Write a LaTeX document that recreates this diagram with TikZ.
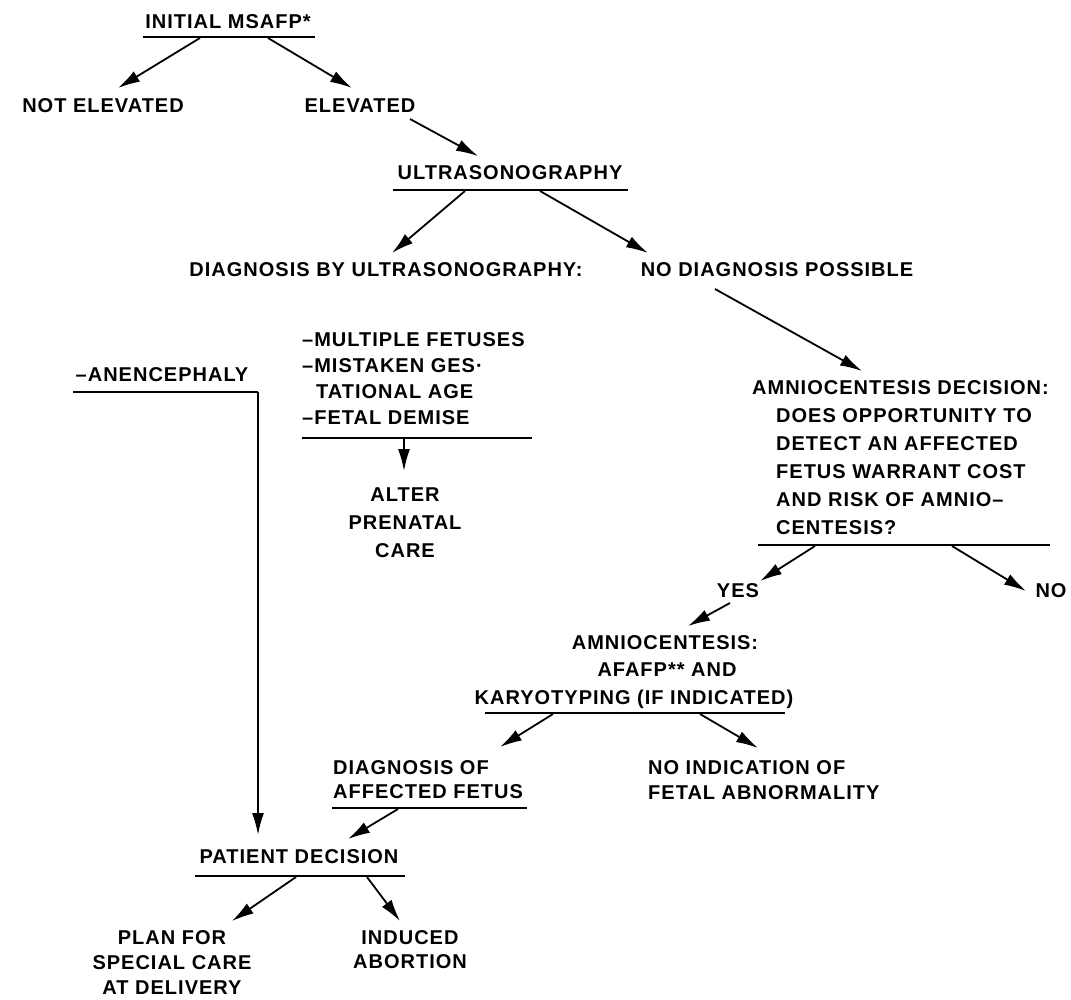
\documentclass[tikz,border=0pt]{standalone}
\usepackage{fontspec}
\setmainfont[LetterSpace=5]{Liberation Sans}
\usetikzlibrary{arrows.meta}
\begin{document}
\begin{tikzpicture}[x=1pt,y=-1pt,
  txt/.style={inner sep=0pt, font=\fontsize{20}{26}\selectfont\bfseries},
  arr/.style={line width=1.8pt, -{Latex[length=22pt,width=12pt]}},
  rulel/.style={line width=1.6pt},
]
\useasboundingbox[fill=white] (0,0) rectangle (1071,1000);

% ---------- text nodes ----------
\node[txt] (init) at (228,22) {INITIAL MSAFP*};
\node[txt] (notel) at (103,106) {NOT ELEVATED};
\node[txt] (elev) at (360,106) {ELEVATED};
\node[txt] (ultra) at (510,173) {ULTRASONOGRAPHY};
\node[txt] (diagus) at (386,270) {DIAGNOSIS BY ULTRASONOGRAPHY:};
\node[txt] (nodiag) at (777,270) {NO DIAGNOSIS POSSIBLE};
\node[txt,anchor=west,align=left] (list) at (302,379)
  {–MULTIPLE FETUSES\\–MISTAKEN GES·\\\hspace*{14pt}TATIONAL AGE\\–FETAL DEMISE};
\node[txt] (anen) at (162,375) {–ANENCEPHALY};
\node[txt,align=center,font=\fontsize{20}{28}\selectfont\bfseries] (alter) at (405,523)
  {ALTER\\PRENATAL\\CARE};
\node[txt,anchor=west,align=left,font=\fontsize{20}{28}\selectfont\bfseries] (amdec) at (752,458)
  {AMNIOCENTESIS DECISION:\\
   \hspace*{24pt}DOES OPPORTUNITY TO\\
   \hspace*{24pt}DETECT AN AFFECTED\\
   \hspace*{24pt}FETUS WARRANT COST\\
   \hspace*{24pt}AND RISK OF AMNIO–\\
   \hspace*{24pt}CENTESIS?};
\node[txt] (yes) at (738,591) {YES};
\node[txt] (no) at (1051,591) {NO};
\node[txt,align=center,font=\fontsize{20}{27.5}\selectfont\bfseries] (amnio) at (634,672)
  {\hspace*{62pt}AMNIOCENTESIS:\\\hspace*{66pt}AFAFP** AND\\KARYOTYPING (IF INDICATED)};
\node[txt,anchor=west,align=left,font=\fontsize{20}{24}\selectfont\bfseries] (diagof) at (333,780)
  {DIAGNOSIS OF\\AFFECTED FETUS};
\node[txt,anchor=west,align=left,font=\fontsize{20}{25}\selectfont\bfseries] (noind) at (648,780)
  {NO INDICATION OF\\FETAL ABNORMALITY};
\node[txt] (patient) at (299,857) {PATIENT DECISION};
\node[txt,align=center,font=\fontsize{20}{25}\selectfont\bfseries] (plan) at (172,963)
  {PLAN FOR\\SPECIAL CARE\\AT DELIVERY};
\node[txt,align=center,font=\fontsize{20}{24}\selectfont\bfseries] (induced) at (410,950)
  {INDUCED\\ABORTION};

% ---------- underlines ----------
\coordinate (initL) at (143,37);   \coordinate (initR) at (315,37);
\coordinate (ultraL) at (393,190); \coordinate (ultraR) at (628,190);
\coordinate (listL) at (302,438);  \coordinate (listR) at (532,438);
\coordinate (amdecL) at (758,545); \coordinate (amdecR) at (1050,545);
\coordinate (amnioL) at (485,713); \coordinate (amnioR) at (785,713);
\coordinate (diagL) at (332,808);  \coordinate (diagR) at (527,808);
\coordinate (patL) at (195,876);   \coordinate (patR) at (405,876);
\draw[rulel] (initL) -- (initR);
\draw[rulel] (ultraL) -- (ultraR);
\draw[rulel] (listL) -- (listR);
\draw[rulel] (amdecL) -- (amdecR);
\draw[rulel] (amnioL) -- (amnioR);
\draw[rulel] (diagL) -- (diagR);
\draw[rulel] (patL) -- (patR);

% ---------- connector end points ----------
\coordinate (c1s) at (200,38);  \coordinate (c1e) at (118,88);
\coordinate (c2s) at (268,38);  \coordinate (c2e) at (352,88);
\coordinate (c3s) at (410,119); \coordinate (c3e) at (478,156);
\coordinate (c4s) at (465,191); \coordinate (c4e) at (392,253);
\coordinate (c5s) at (540,191); \coordinate (c5e) at (648,253);
\coordinate (c6s) at (715,289); \coordinate (c6e) at (862,371);
\coordinate (c7s) at (404,439); \coordinate (c7e) at (404,471);
\coordinate (anL) at (73,392);  \coordinate (anC) at (258,392); \coordinate (anE) at (258,835);
\coordinate (c9s) at (815,546); \coordinate (c9e) at (760,581);
\coordinate (c10s) at (952,546); \coordinate (c10e) at (1026,591);
\coordinate (c11s) at (730,603); \coordinate (c11e) at (688,626);
\coordinate (c12s) at (553,714); \coordinate (c12e) at (500,747);
\coordinate (c13s) at (700,714); \coordinate (c13e) at (758,748);
\coordinate (c14s) at (398,809); \coordinate (c14e) at (348,839);
\coordinate (c15s) at (296,877); \coordinate (c15e) at (232,921);
\coordinate (c16s) at (367,877); \coordinate (c16e) at (400,921);

\draw[arr] (c1s) -- (c1e);
\draw[arr] (c2s) -- (c2e);
\draw[arr] (c3s) -- (c3e);
\draw[arr] (c4s) -- (c4e);
\draw[arr] (c5s) -- (c5e);
\draw[arr] (c6s) -- (c6e);
\draw[arr] (c7s) -- (c7e);
\draw[rulel] (anL) -- (anC);
\draw[arr] (anC) -- (anE);
\draw[arr] (c9s) -- (c9e);
\draw[arr] (c10s) -- (c10e);
\draw[arr] (c11s) -- (c11e);
\draw[arr] (c12s) -- (c12e);
\draw[arr] (c13s) -- (c13e);
\draw[arr] (c14s) -- (c14e);
\draw[arr] (c15s) -- (c15e);
\draw[arr] (c16s) -- (c16e);
\end{tikzpicture}
\end{document}
